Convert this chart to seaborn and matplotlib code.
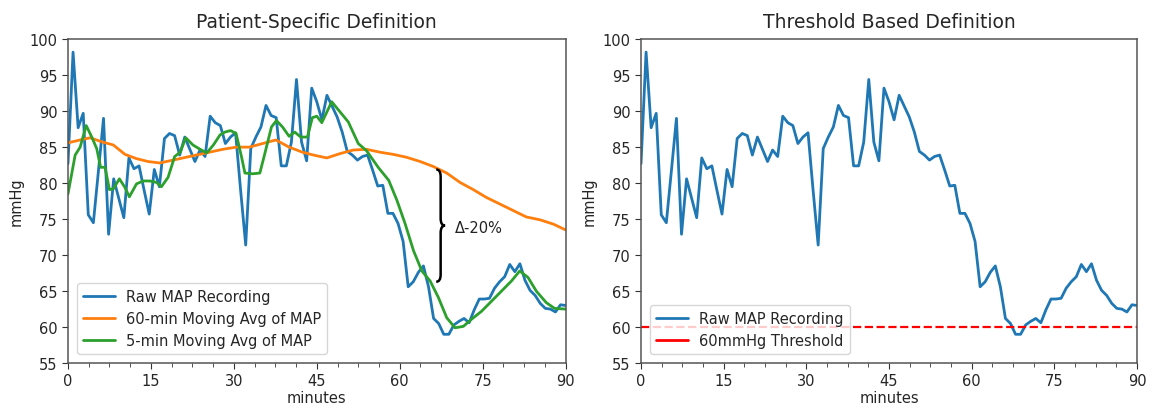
import numpy as np
import matplotlib
matplotlib.use("Agg")
import matplotlib.pyplot as plt
from matplotlib.path import Path
from matplotlib.patches import PathPatch
from matplotlib.lines import Line2D
from matplotlib.ticker import AutoMinorLocator
import seaborn as sns

# raw MAP samples, evenly spaced over 0-90 minutes
raw_map = [82.7, 98.2, 87.7, 89.7, 75.6, 74.5, 81.7, 89.0, 72.9, 80.6,
           77.9, 75.2, 83.5, 82.0, 82.4, 79.0, 75.7, 81.9, 79.5, 86.2,
           86.9, 86.6, 83.9, 86.4, 84.7, 83.0, 84.6, 83.7, 89.3, 88.4,
           88.0, 85.5, 86.4, 87.0, 79.0, 71.4, 84.8, 86.4, 87.8, 90.8,
           89.4, 89.1, 82.4, 82.4, 85.7, 94.4, 85.7, 83.1, 93.2, 91.3,
           88.8, 92.2, 90.7, 89.2, 87.1, 84.4, 83.9, 83.2, 83.7, 83.9,
           81.8, 79.6, 79.7, 75.8, 75.8, 74.4, 71.9, 65.6, 66.3, 67.6,
           68.5, 65.6, 61.2, 60.5, 59.0, 59.0, 60.3, 60.8, 61.2, 60.6,
           62.4, 63.9, 63.9, 64.0, 65.4, 66.3, 67.0, 68.7, 67.7, 68.8,
           66.5, 65.1, 64.4, 63.3, 62.6, 62.5, 62.1, 63.1, 63.0]
raw_minutes = np.linspace(0, 90, len(raw_map))

# 5-min moving average
ma5_minutes = [0, 1.3, 2.2, 3.3, 4.3, 5.2, 5.9, 6.7, 7.5, 8.2, 9.3, 10.3, 11.1,
               12.4, 13.6, 14.8, 16.0, 16.9, 18.1, 19.3, 20.3, 21.3, 22.6, 23.9,
               25.1, 26.3, 27.5, 28.4, 29.4, 30.4, 31.4, 32.0, 33.4, 34.7, 35.6,
               36.8, 37.7, 38.8, 40.0, 41.0, 42.1, 43.3, 44.2, 45.0, 45.9, 47.7,
               49.2, 50.7, 52.5, 54.0, 56.1, 58.0, 59.5, 61.0, 62.5, 64.0, 65.5,
               67.0, 68.5, 70.0, 71.5, 73.0, 74.8, 76.6, 78.4, 80.2, 81.7, 83.2,
               84.7, 86.5, 88.0, 90.0]
ma5_values = [78.5, 83.9, 85.0, 88.0, 86.4, 84.8, 82.2, 82.2, 79.1, 79.2, 80.6,
              79.4, 78.1, 79.9, 80.3, 80.3, 80.1, 79.5, 80.8, 83.7, 84.3, 86.3,
              85.3, 84.7, 84.2, 85.3, 86.7, 87.1, 87.3, 86.9, 83.6, 81.4, 81.3,
              81.4, 84.1, 87.8, 88.7, 87.8, 86.5, 87.1, 86.4, 86.4, 89.1, 89.3,
              88.4, 91.3, 89.9, 88.5, 85.5, 84.5, 82.2, 80.4, 77.6, 74.3, 70.6,
              67.8, 66.4, 64.1, 61.3, 59.9, 60.1, 61.1, 62.2, 63.6, 65.0, 66.4,
              67.8, 66.9, 65.0, 63.4, 62.6, 62.5]

# 60-min moving average
ma60_minutes = [0, 2.2, 4.0, 6.3, 8.2, 10.3, 12.4, 14.5, 16.6, 18.4, 20.8, 23.2,
                25.6, 28.0, 30.4, 32.8, 35.2, 37.6, 40.0, 42.4, 44.4, 46.8, 49.2,
                51.6, 54.0, 56.4, 58.8, 61.2, 63.7, 66.1, 68.5, 70.9, 73.3, 75.7,
                78.1, 80.5, 82.9, 85.4, 87.8, 90.0]
ma60_values = [85.6, 86.0, 86.3, 85.7, 85.3, 84.0, 83.4, 83.0, 82.8, 83.1, 83.5,
               83.9, 84.3, 84.7, 85.0, 85.0, 85.5, 86.0, 85.0, 84.3, 83.9, 83.5,
               84.1, 84.6, 84.7, 84.3, 84.0, 83.6, 83.0, 82.3, 81.4, 80.1, 79.1,
               78.0, 77.1, 76.2, 75.3, 74.9, 74.3, 73.5]

threshold = 60

sns.set_style("ticks")
plt.rcParams["font.family"] = ["DejaVu Sans"]

fig = plt.figure(figsize=(11.6, 4.1), dpi=100)
ax1 = fig.add_axes([0.0586, 0.112, 0.429, 0.790])
ax2 = fig.add_axes([0.5526, 0.112, 0.4276, 0.790])

blue, orange, green = "#1f77b4", "#ff7f0e", "#2ca02c"

sns.lineplot(x=raw_minutes, y=raw_map, ax=ax1, color=blue, lw=2,
             label="Raw MAP Recording")
sns.lineplot(x=ma60_minutes, y=ma60_values, ax=ax1, color=orange, lw=2,
             label="60-min Moving Avg of MAP")
sns.lineplot(x=ma5_minutes, y=ma5_values, ax=ax1, color=green, lw=2,
             label="5-min Moving Avg of MAP")

sns.lineplot(x=raw_minutes, y=raw_map, ax=ax2, color=blue, lw=2,
             label="Raw MAP Recording")
ax2.axhline(threshold, color="red", ls="--", lw=1.6)


def draw_brace(ax, x, y_bot, y_top, w, hook):
    ym = (y_bot + y_top) / 2
    verts = [(x - w, y_top), (x, y_top), (x, y_top - hook),
             (x, ym + hook), (x, ym), (x + w, ym),
             (x, ym), (x, ym - hook),
             (x, y_bot + hook), (x, y_bot), (x - w, y_bot)]
    codes = [Path.MOVETO, Path.CURVE3, Path.CURVE3,
             Path.LINETO, Path.CURVE3, Path.CURVE3,
             Path.CURVE3, Path.CURVE3,
             Path.LINETO, Path.CURVE3, Path.CURVE3]
    ax.add_patch(PathPatch(Path(verts, codes), fill=False, lw=1.8,
                           edgecolor="black", zorder=5))


draw_brace(ax1, 67.4, 66.3, 81.9, 0.8, 1.0)
ax1.text(70.0, 73.9, "Δ-20%", fontsize=10.5, va="center", ha="left",
         color="#222222")

for ax, title in [(ax1, "Patient-Specific Definition"),
                  (ax2, "Threshold Based Definition")]:
    ax.set_xlim(0, 90)
    ax.set_ylim(55, 100)
    ax.set_xticks(range(0, 91, 15))
    ax.set_yticks(range(55, 101, 5))
    ax.xaxis.set_minor_locator(AutoMinorLocator(4))
    ax.tick_params(axis="both", which="major", labelsize=10.5, length=4,
                   color="#333333")
    ax.tick_params(axis="x", which="minor", length=3, color="#333333")
    ax.set_xlabel("minutes", fontsize=10.5, labelpad=1)
    ax.set_ylabel("mmHg", fontsize=10.5)
    ax.set_title(title, fontsize=13.5, pad=9)
    for s in ax.spines.values():
        s.set_color("#555555")
        s.set_linewidth(1.1)

ax1.legend(loc="lower left", fontsize=10.5, frameon=True, borderaxespad=0.6,
           handlelength=2.2)
handles = [Line2D([], [], color=blue, lw=2), Line2D([], [], color="red", lw=2)]
ax2.legend(handles, ["Raw MAP Recording", "60mmHg Threshold"], loc="lower left",
           fontsize=10.5, frameon=True, borderaxespad=0.6, handlelength=2.2)

fig.savefig("out.png", dpi=100)
